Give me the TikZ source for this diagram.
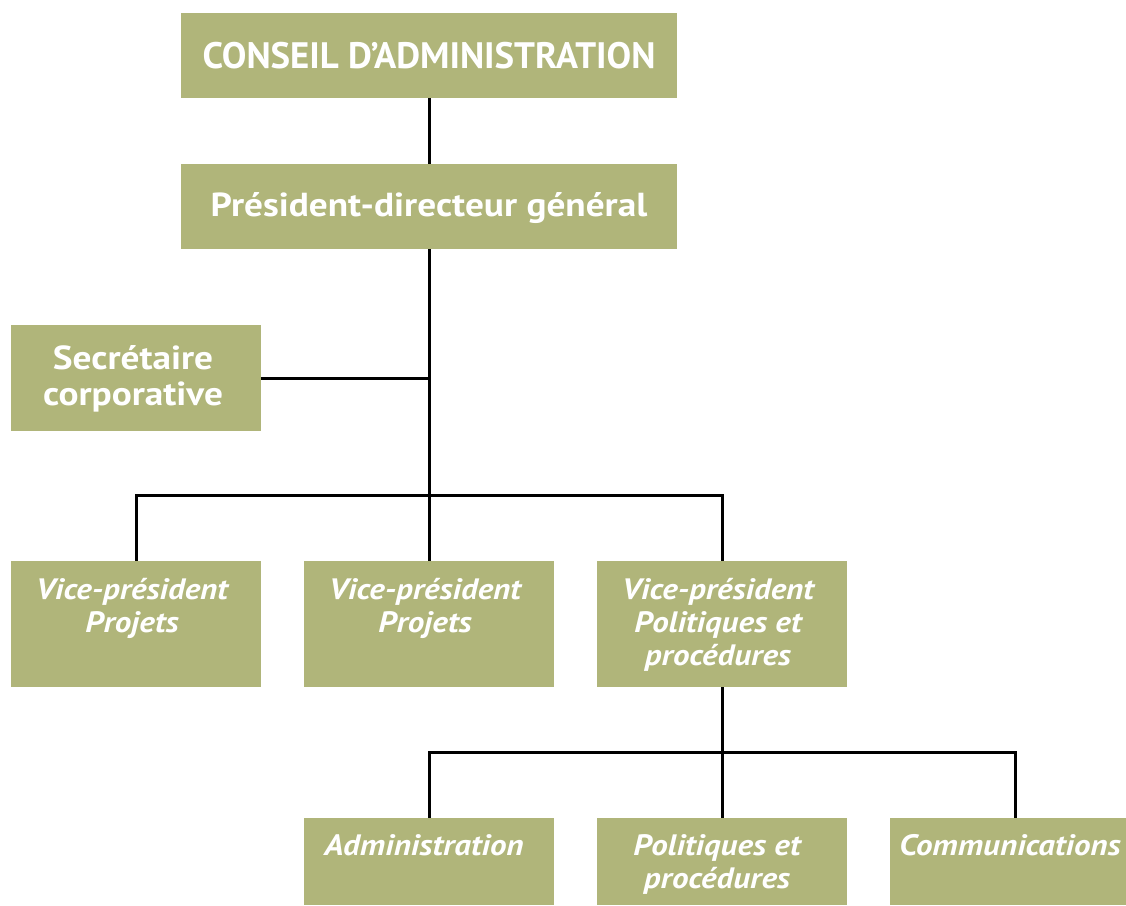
\documentclass[tikz,border=0pt]{standalone}
\usepackage{fontspec}
\setmainfont{PT Sans}
\newfontfamily\widefont{PT Sans}[FakeStretch=1.12]
\definecolor{olivebox}{RGB}{176,181,122}
\begin{document}
\begin{tikzpicture}[x=1pt,y=-1pt,
  box/.style={fill=olivebox, draw=none, inner sep=0pt, minimum width=250pt},
  wide/.style={box, minimum width=496pt, minimum height=85pt},
  lbl/.style={text=white, inner sep=0pt, align=center, anchor=base},
  headtxt/.style={lbl, font=\bfseries\fontsize{36.8}{40}\selectfont},
  bigtxt/.style={lbl, font=\widefont\bfseries\fontsize{33.3}{36}\selectfont},
  ittxt/.style={lbl, font=\widefont\bfseries\itshape\fontsize{29.5}{33}\selectfont},
  link/.style={draw=black, line width=3pt}]
\clip (0,0) rectangle (1126,905);
\fill[white] (0,0) rectangle (1126,905);

% boxes
\node[wide] (ca)  at (429,55.5) {};
\node[wide] (pdg) at (429,206.5) {};
\node[box, minimum height=106pt] (sec) at (136,378) {};
\node[box, minimum height=126pt] (vp1) at (136,624) {};
\node[box, minimum height=126pt] (vp2) at (429,624) {};
\node[box, minimum height=126pt] (vp3) at (722,624) {};
\node[box, minimum height=87pt] (adm) at (429,861.5) {};
\node[box, minimum height=87pt] (pol) at (722,861.5) {};
\node[box, minimum height=87pt] (com) at (1015,861.5) {};

% labels (anchored on the baseline of their last line)
\node[headtxt] (ca-t)  at (429,68) {CONSEIL D’ADMINISTRATION};
\node[bigtxt]  (pdg-t) at (429,216) {Président-directeur général};
\node[bigtxt]  (sec-t) at (133,405) {Secrétaire\\corporative};
\node[ittxt]   (vp1-t) at (132,632) {Vice-président\\Projets};
\node[ittxt]   (vp2-t) at (425,632) {Vice-président\\Projets};
\node[ittxt]   (vp3-t) at (718,665) {Vice-président\\Politiques et\\procédures};
\node[ittxt]   (adm-t) at (424,855) {Administration};
\node[ittxt]   (pol-t) at (717,888) {Politiques et\\procédures};
\node[ittxt]   (com-t) at (1010,855) {Communications};

% junctions
\coordinate (j1) at (429,495);
\coordinate (j2) at (722,752);

% connectors
\draw[link] (ca.south) -- (pdg.north);
\draw[link] (pdg.south) -- (j1);
\draw[link] (sec.east) -- (sec.east -| pdg.south);
\draw[link] (vp1.north) |- (j1) -| (vp3.north);
\draw[link] (vp2.north) -- (j1);
\draw[link] (vp3.south) -- (j2);
\draw[link] (adm.north) |- (j2) -| (com.north);
\draw[link] (pol.north) -- (j2);
\end{tikzpicture}
\end{document}
